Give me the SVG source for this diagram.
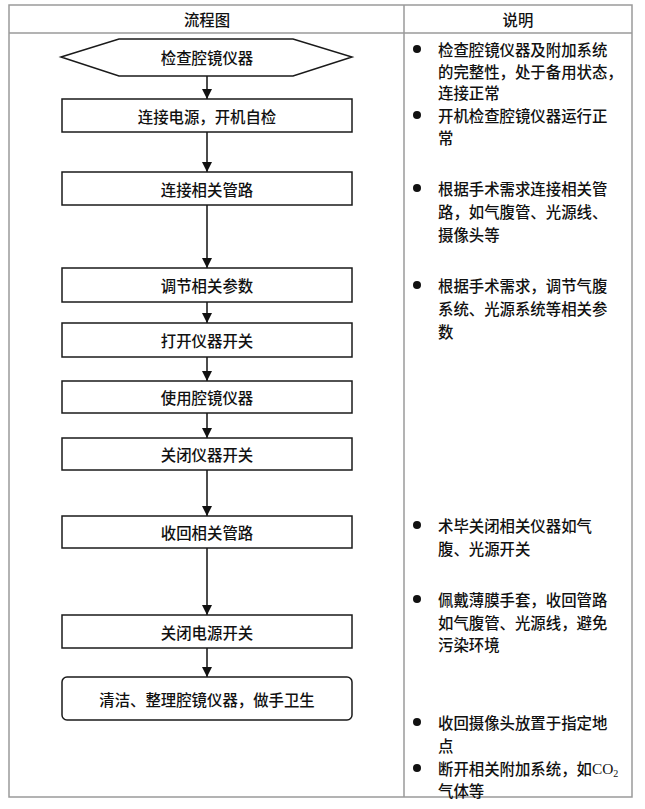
<svg xmlns="http://www.w3.org/2000/svg" width="645" height="809" viewBox="0 0 645 809">
<defs>
<style>
.tbl{fill:none;stroke:#9a9a9a;stroke-width:1.5}
.node{fill:#fff;stroke:#1a1a1a;stroke-width:1.5}
.t{font-family:"Noto Sans CJK SC","Noto Sans",sans-serif;font-size:15.4px;font-weight:500;fill:#111;dominant-baseline:central}
.c{text-anchor:middle}
.conn{stroke:#111;stroke-width:1.5;fill:none}
.dot{fill:#111}
</style>
<marker id="ah" markerUnits="userSpaceOnUse" markerWidth="10" markerHeight="10" refX="10" refY="5" orient="auto">
<path d="M0,0 L10,5 L0,10 z" fill="#111"/>
</marker>
</defs>
<rect width="645" height="809" fill="#fff"/>
<g id="table">
<rect class="tbl" x="9" y="5" width="623" height="792"/>
<line class="tbl" x1="9" y1="33" x2="632" y2="33"/>
<line class="tbl" x1="404" y1="5" x2="404" y2="797"/>
<text class="t c" x="207" y="19">流程图</text>
<text class="t c" x="518" y="19">说明</text>
</g>
<g id="connectors">
<line class="conn" x1="207" y1="76" x2="207" y2="99" marker-end="url(#ah)"/>
<line class="conn" x1="207" y1="132" x2="207" y2="172" marker-end="url(#ah)"/>
<line class="conn" x1="207" y1="205" x2="207" y2="268" marker-end="url(#ah)"/>
<line class="conn" x1="207" y1="302" x2="207" y2="323" marker-end="url(#ah)"/>
<line class="conn" x1="207" y1="357" x2="207" y2="381" marker-end="url(#ah)"/>
<line class="conn" x1="207" y1="413" x2="207" y2="438" marker-end="url(#ah)"/>
<line class="conn" x1="207" y1="470" x2="207" y2="516" marker-end="url(#ah)"/>
<line class="conn" x1="207" y1="548" x2="207" y2="615" marker-end="url(#ah)"/>
<line class="conn" x1="207" y1="648" x2="207" y2="677" marker-end="url(#ah)"/>
</g>
<g id="n1">
<polygon class="node" points="61,57 119,39 293,39 352,57 293,76 119,76"/>
<text class="t c" x="207" y="57">检查腔镜仪器</text>
</g>
<g id="n2">
<rect class="node" x="62" y="99" width="290" height="33"/>
<text class="t c" x="207" y="116">连接电源，开机自检</text>
</g>
<g id="n3">
<rect class="node" x="62" y="172" width="290" height="33"/>
<text class="t c" x="207" y="189">连接相关管路</text>
</g>
<g id="n4">
<rect class="node" x="62" y="268" width="290" height="34"/>
<text class="t c" x="207" y="285">调节相关参数</text>
</g>
<g id="n5">
<rect class="node" x="62" y="323" width="290" height="34"/>
<text class="t c" x="207" y="340">打开仪器开关</text>
</g>
<g id="n6">
<rect class="node" x="62" y="381" width="290" height="32"/>
<text class="t c" x="207" y="397">使用腔镜仪器</text>
</g>
<g id="n7">
<rect class="node" x="62" y="438" width="290" height="32"/>
<text class="t c" x="207" y="454">关闭仪器开关</text>
</g>
<g id="n8">
<rect class="node" x="62" y="516" width="290" height="32"/>
<text class="t c" x="207" y="532">收回相关管路</text>
</g>
<g id="n9">
<rect class="node" x="62" y="615" width="290" height="33"/>
<text class="t c" x="207" y="632">关闭电源开关</text>
</g>
<g id="n10">
<rect class="node" x="62" y="677" width="290" height="43" rx="5" ry="5"/>
<text class="t c" x="207" y="699">清洁、整理腔镜仪器，做手卫生</text>
</g>
<g id="notes">
<circle class="dot" cx="417" cy="49" r="4"/>
<text class="t" x="438" y="49">检查腔镜仪器及附加系统</text>
<text class="t" x="438" y="71">的完整性，处于备用状态，</text>
<text class="t" x="438" y="92">连接正常</text>
<circle class="dot" cx="417" cy="115" r="4"/>
<text class="t" x="438" y="115">开机检查腔镜仪器运行正</text>
<text class="t" x="438" y="137">常</text>
<circle class="dot" cx="417" cy="188" r="4"/>
<text class="t" x="438" y="188">根据手术需求连接相关管</text>
<text class="t" x="438" y="211">路，如气腹管、光源线、</text>
<text class="t" x="438" y="234">摄像头等</text>
<circle class="dot" cx="417" cy="285" r="4"/>
<text class="t" x="438" y="285">根据手术需求，调节气腹</text>
<text class="t" x="438" y="308">系统、光源系统等相关参</text>
<text class="t" x="438" y="331">数</text>
<circle class="dot" cx="417" cy="525" r="4"/>
<text class="t" x="438" y="525">术毕关闭相关仪器如气</text>
<text class="t" x="438" y="548">腹、光源开关</text>
<circle class="dot" cx="417" cy="599" r="4"/>
<text class="t" x="438" y="599">佩戴薄膜手套，收回管路</text>
<text class="t" x="438" y="622">如气腹管、光源线，避免</text>
<text class="t" x="438" y="644">污染环境</text>
<circle class="dot" cx="417" cy="722" r="4"/>
<text class="t" x="438" y="722">收回摄像头放置于指定地</text>
<text class="t" x="438" y="745">点</text>
<circle class="dot" cx="417" cy="768" r="4"/>
<text class="t" x="438" y="768">断开相关附加系统，如<tspan font-family="Liberation Serif,serif">CO</tspan><tspan font-family="Liberation Serif,serif" font-size="10px" dy="5">2</tspan></text>
<text class="t" x="438" y="790">气体等</text>
</g>
</svg>
